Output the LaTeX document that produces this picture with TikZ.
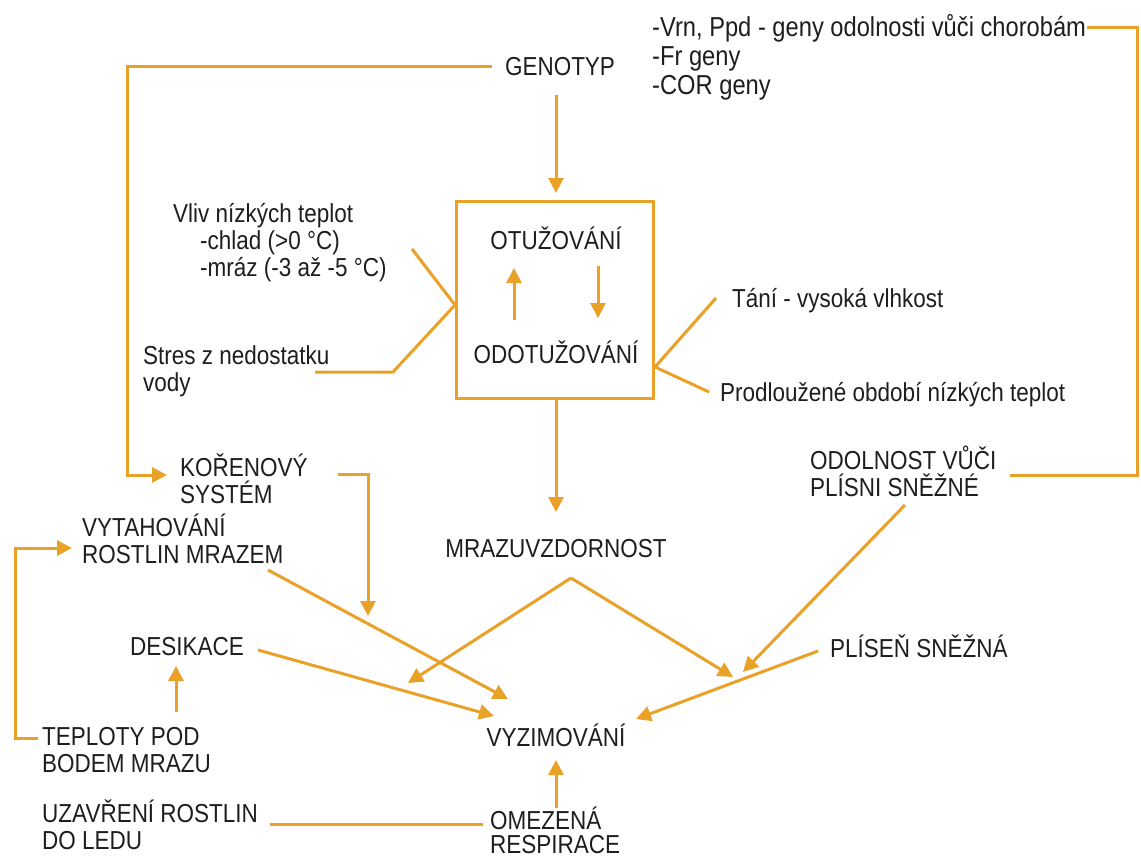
\documentclass[tikz,border=0pt]{standalone}
\usepackage{fontspec}
\setmainfont{Liberation Sans}
\newfontfamily\lbfont[FakeStretch=0.865]{Liberation Sans}
\usetikzlibrary{arrows.meta}
\definecolor{orng}{RGB}{233,161,40}
\definecolor{txt}{RGB}{30,30,30}
\newcommand{\twol}[2]{\vtop{\hbox{#1}\hbox{#2}}}
\begin{document}
\begin{tikzpicture}[x=1pt,y=-1pt,
  lbl/.style={inner sep=0pt, anchor=base west, text=txt, font=\lbfont\fontsize{26}{27}\selectfont},
  clbl/.style={lbl, anchor=base},
  conn/.style={draw=orng, line width=3pt, line join=miter},
  arr/.style={conn, -{Triangle[length=15pt,width=15pt]}}]
\useasboundingbox[fill=white] (0,0) rectangle (1141,859);

% texts
\node[clbl] (genotyp) at (560,75) {GENOTYP};
\node[lbl, font=\lbfont\fontsize{27.4}{29}\selectfont] (geny) at (652,37) {\vtop{\hbox{-Vrn, Ppd - geny odolnosti vůči chorobám}\hbox{-Fr geny}\hbox{-COR geny}}};
\node[draw=orng, line width=3pt, minimum width=197pt, minimum height=197pt, inner sep=0pt] (box) at (554.5,299.5) {};
\node[clbl] (otuz) at (556,249) {OTUŽOVÁNÍ};
\node[clbl] (odotuz) at (556,363) {ODOTUŽOVÁNÍ};
\node[lbl] (vliv) at (173,222) {\vtop{\hbox{Vliv nízkých teplot}\hbox{\hspace*{27pt}-chlad (>0 °C)}\hbox{\hspace*{27pt}-mráz (-3 až -5 °C)}}};
\node[lbl] (stres) at (143,364) {\twol{Stres z nedostatku}{vody}};
\node[lbl] (tani) at (732,307) {Tání - vysoká vlhkost};
\node[lbl] (prodl) at (720,401) {Prodloužené období nízkých teplot};
\node[lbl] (koren) at (180,476) {\twol{KOŘENOVÝ}{SYSTÉM}};
\node[lbl] (odoln) at (810,469) {\twol{ODOLNOST VŮČI}{PLÍSNI SNĚŽNÉ}};
\node[clbl] (mraz) at (556,557) {MRAZUVZDORNOST};
\node[lbl] (vytah) at (82,536) {\twol{VYTAHOVÁNÍ}{ROSTLIN MRAZEM}};
\node[lbl] (desik) at (130,655) {DESIKACE};
\node[lbl] (plisen) at (830,657) {PLÍSEŇ SNĚŽNÁ};
\node[clbl] (vyzim) at (556,746) {VYZIMOVÁNÍ};
\node[lbl] (teplo) at (42,745) {\twol{TEPLOTY POD}{BODEM MRAZU}};
\node[lbl] (uzavr) at (42,822) {\twol{UZAVŘENÍ ROSTLIN}{DO LEDU}};
\node[lbl, font=\lbfont\fontsize{26}{24}\selectfont] (omez) at (490,829) {\twol{OMEZENÁ}{RESPIRACE}};

% connector points
\coordinate (g1) at (492,67);
\coordinate (g2) at (556,95);
\coordinate (k1) at (167,475);
\coordinate (bt) at (556,193);
\coordinate (u1) at (514,320);
\coordinate (u2) at (514,268);
\coordinate (d1) at (598,266);
\coordinate (d2) at (598,318);
\coordinate (bb) at (556,398);
\coordinate (m1) at (556,512);
\coordinate (vl) at (412,249);
\coordinate (bl) at (455,305);
\coordinate (st) at (315,372);
\coordinate (br) at (655,367);
\coordinate (ta) at (716,298);
\coordinate (pr) at (709,392);
\coordinate (gy) at (1087,28);
\coordinate (od) at (1010,475);
\coordinate (ko) at (338,474);
\coordinate (ko2) at (368,616);
\coordinate (vy1) at (268,570);
\coordinate (vy2) at (508,699);
\coordinate (de1) at (258,650);
\coordinate (de2) at (494,716);
\coordinate (pk) at (571,578);
\coordinate (pkl) at (408,683);
\coordinate (pkr) at (733,677);
\coordinate (od1) at (905,505);
\coordinate (od2) at (743,672);
\coordinate (pl1) at (818,651);
\coordinate (pl2) at (636,719);
\coordinate (te1) at (176,712);
\coordinate (te2) at (176,666);
\coordinate (tb) at (38,738);
\coordinate (vt) at (72,548);
\coordinate (om1) at (556,808);
\coordinate (om2) at (556,760);
\coordinate (uz1) at (270,824);
\coordinate (uz2) at (483,824);

% connectors
\draw[arr] (g1) -- (127,67) -- (127,475) -- (k1);
\draw[arr] (g2) -- (bt);
\draw[arr] (u1) -- (u2);
\draw[arr] (d1) -- (d2);
\draw[arr] (bb) -- (m1);
\draw[conn] (vl) -- (bl) -- (393,372) -- (st);
\draw[conn] (ta) -- (br) -- (pr);
\draw[conn] (gy) -- (1137,28) -- (1137,475) -- (od);
\draw[arr] (ko) -- (368,474) -- (ko2);
\draw[arr] (vy1) -- (vy2);
\draw[arr] (de1) -- (de2);
\draw[arr] (pk) -- (pkl);
\draw[arr] (pk) -- (pkr);
\draw[arr] (od1) -- (od2);
\draw[arr] (pl1) -- (pl2);
\draw[arr] (te1) -- (te2);
\draw[arr] (tb) -- (15,738) -- (15,548) -- (vt);
\draw[arr] (om1) -- (om2);
\draw[conn] (uz1) -- (uz2);
\end{tikzpicture}
\end{document}
